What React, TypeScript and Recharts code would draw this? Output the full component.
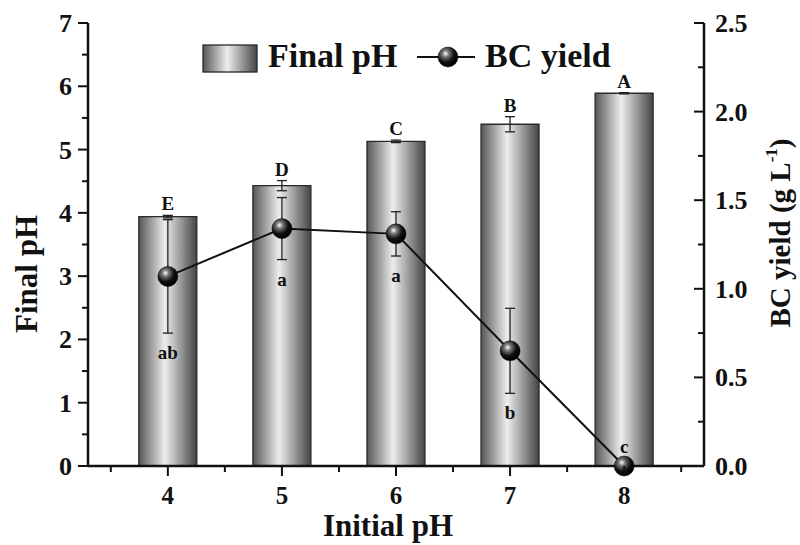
import React from 'react';
import {
  ComposedChart,
  Bar,
  Line,
  XAxis,
  YAxis,
  ErrorBar,
  LabelList,
  Legend,
} from 'recharts';

const initialPH = [4, 5, 6, 7, 8];
const finalPH = [3.94, 4.43, 5.13, 5.4, 5.89];
const finalPHErr = [0.02, 0.08, 0.02, 0.12, 0.01];
const bcYield = [1.07, 1.34, 1.31, 0.65, 0.0];
const bcYieldErr = [0.32, 0.175, 0.125, 0.24, 0];
const phLetters = ['E', 'D', 'C', 'B', 'A'];
const bcLetters = ['ab', 'a', 'a', 'b', 'c'];

const xTicks = [3.5, 4, 4.5, 5, 5.5, 6, 6.5, 7, 7.5, 8, 8.5];
const leftTicks = [0, 0.5, 1, 1.5, 2, 2.5, 3, 3.5, 4, 4.5, 5, 5.5, 6, 6.5, 7];
const rightTicks = [0, 0.25, 0.5, 0.75, 1, 1.25, 1.5, 1.75, 2, 2.25, 2.5];

const data = initialPH.map((x, i) => ({
  x,
  ph: finalPH[i],
  phErr: finalPHErr[i],
  phTop: finalPH[i] + finalPHErr[i],
  phLetter: phLetters[i],
  bc: bcYield[i],
  bcErr: bcYieldErr[i],
  bcLow: bcYield[i] - bcYieldErr[i],
  bcLetter: bcLetters[i],
}));

const FONT = "'Liberation Serif', 'Times New Roman', serif";
const INK = '#111';

const LeftTick = (props: any) => {
  const { x, y, payload } = props;
  const major = Number.isInteger(payload.value);
  return (
    <g>
      <line x1={x} x2={x - (major ? 10 : 6)} y1={y} y2={y} stroke={INK} strokeWidth={2} />
      {major && (
        <text x={x - 16} y={y + 9} textAnchor="end" fontFamily={FONT} fontWeight="bold" fontSize={26} fill={INK}>
          {payload.value}
        </text>
      )}
    </g>
  );
};

const RightTick = (props: any) => {
  const { x, y, payload } = props;
  const major = Math.abs(payload.value * 2 - Math.round(payload.value * 2)) < 1e-6;
  return (
    <g>
      <line x1={x} x2={x - (major ? 10 : 6)} y1={y} y2={y} stroke={INK} strokeWidth={2} />
      {major && (
        <text x={x + 11} y={y + 9} textAnchor="start" fontFamily={FONT} fontWeight="bold" fontSize={26} fill={INK}>
          {payload.value.toFixed(1)}
        </text>
      )}
    </g>
  );
};

const BottomTick = (props: any) => {
  const { x, y, payload } = props;
  const major = Number.isInteger(payload.value);
  return (
    <g>
      <line x1={x} x2={x} y1={y} y2={y + (major ? 10 : 6)} stroke={INK} strokeWidth={2} />
      {major && (
        <text x={x} y={y + 38} textAnchor="middle" fontFamily={FONT} fontWeight="bold" fontSize={25} fill={INK}>
          {payload.value}
        </text>
      )}
    </g>
  );
};

const phLetterLabel = (props: any) => {
  const { x, y, value } = props;
  return (
    <text x={x} y={y - 5} textAnchor="middle" fontFamily={FONT} fontWeight="bold" fontSize={19} fill={INK}>
      {value}
    </text>
  );
};

const bcLetterLabel = (props: any) => {
  const { x, y, value, index } = props;
  // the zero point (pH 8) has its letter above the marker
  const above = bcYieldErr[index] === 0;
  return (
    <text x={x} y={above ? y - 13 : y + 26} textAnchor="middle" fontFamily={FONT} fontWeight="bold" fontSize={19} fill={INK}>
      {value}
    </text>
  );
};

const SphereDot = (props: any) => {
  const { cx, cy, index } = props;
  if (cx == null || cy == null) return null;
  return <circle key={`dot-${index}`} cx={cx} cy={cy} r={10} fill="url(#sphere)" stroke="#000" strokeWidth={0.5} />;
};

const LegendBox = () => (
  <svg width={800} height={90}>
    <defs>
      <linearGradient id="barGradLeg" x1="0" y1="0" x2="1" y2="0">
        <stop offset="0%" stopColor="#575757" />
        <stop offset="45%" stopColor="#ededed" />
        <stop offset="100%" stopColor="#444" />
      </linearGradient>
      <radialGradient id="sphereLeg" cx="38%" cy="33%" r="65%">
        <stop offset="0%" stopColor="#ffffff" />
        <stop offset="25%" stopColor="#7a7a7a" />
        <stop offset="65%" stopColor="#111" />
        <stop offset="100%" stopColor="#000" />
      </radialGradient>
    </defs>
    <rect x={203} y={45} width={54} height={27} fill="url(#barGradLeg)" stroke="#2a2a2a" strokeWidth={1.3} />
    <text x={268} y={67} fontFamily={FONT} fontWeight="bold" fontSize={34} fill={INK}>Final pH</text>
    <line x1={417} x2={475} y1={57} y2={57} stroke={INK} strokeWidth={2} />
    <circle cx={448} cy={57} r={10} fill="url(#sphereLeg)" stroke="#000" strokeWidth={0.5} />
    <text x={485} y={67} fontFamily={FONT} fontWeight="bold" fontSize={34} fill={INK}>BC yield</text>
  </svg>
);

export default function App() {
  return (
    <div style={{ position: 'absolute', left: 0, top: 0, width: 800, height: 545, background: '#fff' }}>
      <ComposedChart width={800} height={545} data={data} margin={{ top: 23, right: 0, bottom: 0, left: 0 }}>
        <defs>
          <linearGradient id="barGrad" x1="0" y1="0" x2="1" y2="0">
            <stop offset="0%" stopColor="#575757" />
            <stop offset="45%" stopColor="#ededed" />
            <stop offset="100%" stopColor="#444" />
          </linearGradient>
          <radialGradient id="sphere" cx="38%" cy="33%" r="65%">
            <stop offset="0%" stopColor="#ffffff" />
            <stop offset="25%" stopColor="#7a7a7a" />
            <stop offset="65%" stopColor="#111" />
            <stop offset="100%" stopColor="#000" />
          </radialGradient>
        </defs>
        <XAxis
          dataKey="x"
          type="number"
          domain={[3.3, 8.7]}
          allowDataOverflow
          ticks={xTicks}
          interval={0}
          height={79}
          tickSize={0}
          tickMargin={0}
          tickLine={false}
          tick={BottomTick}
          axisLine={{ stroke: INK, strokeWidth: 2.5 }}
          label={(p: any) => (
            <text x={388} y={536} textAnchor="middle" fontFamily={FONT} fontWeight="bold" fontSize={31} fill={INK}>
              Initial pH
            </text>
          )}
        />
        <XAxis
          xAxisId="top"
          orientation="top"
          dataKey="x"
          type="number"
          domain={[3.3, 8.7]}
          allowDataOverflow
          height={0}
          tick={false}
          tickLine={false}
          axisLine={{ stroke: INK, strokeWidth: 2.5 }}
        />
        <YAxis
          yAxisId="left"
          domain={[0, 7]}
          ticks={leftTicks}
          interval={0}
          width={88}
          tickSize={0}
          tickMargin={0}
          tickLine={false}
          tick={LeftTick}
          axisLine={{ stroke: INK, strokeWidth: 2.5 }}
          label={(p: any) => (
            <text x={37} y={274} transform="rotate(-90 37 274)" textAnchor="middle" fontFamily={FONT} fontWeight="bold" fontSize={31} fill={INK}>
              Final pH
            </text>
          )}
        />
        <YAxis
          yAxisId="right"
          orientation="right"
          domain={[0, 2.5]}
          ticks={rightTicks}
          interval={0}
          width={96}
          tickSize={0}
          tickMargin={0}
          tickLine={false}
          tick={RightTick}
          axisLine={{ stroke: INK, strokeWidth: 2.5 }}
          label={(p: any) => (
            <text x={790} y={233} transform="rotate(-90 790 233)" textAnchor="middle" fontFamily={FONT} fontWeight="bold" fontSize={29} fill={INK}>
              BC yield (g L
              <tspan fontSize={17} dy={-13}>-1</tspan>
              <tspan dy={13}>)</tspan>
            </text>
          )}
        />
        <Legend
          layout="horizontal"
          verticalAlign="middle"
          align="center"
          wrapperStyle={{ left: 0, top: 0, width: 800, height: 90 }}
          content={LegendBox}
        />
        <Bar
          yAxisId="left"
          dataKey="ph"
          barSize={58}
          fill="url(#barGrad)"
          stroke="#2a2a2a"
          strokeWidth={1.3}
          isAnimationActive={false}
        >
          <ErrorBar dataKey="phErr" width={5} stroke="#222" strokeWidth={1.3} direction="y" />
        </Bar>
        <Line
          yAxisId="left"
          dataKey="phTop"
          stroke="none"
          dot={false}
          activeDot={false}
          legendType="none"
          isAnimationActive={false}
        >
          <LabelList dataKey="phLetter" content={phLetterLabel} />
        </Line>
        <Line
          yAxisId="right"
          dataKey="bcLow"
          stroke="none"
          dot={false}
          activeDot={false}
          legendType="none"
          isAnimationActive={false}
        >
          <LabelList dataKey="bcLetter" content={bcLetterLabel} />
        </Line>
        <Line
          yAxisId="right"
          type="linear"
          dataKey="bc"
          stroke={INK}
          strokeWidth={2}
          dot={SphereDot}
          activeDot={false}
          isAnimationActive={false}
        >
          <ErrorBar dataKey="bcErr" width={5} stroke="#222" strokeWidth={1.3} direction="y" />
        </Line>
      </ComposedChart>
    </div>
  );
}
